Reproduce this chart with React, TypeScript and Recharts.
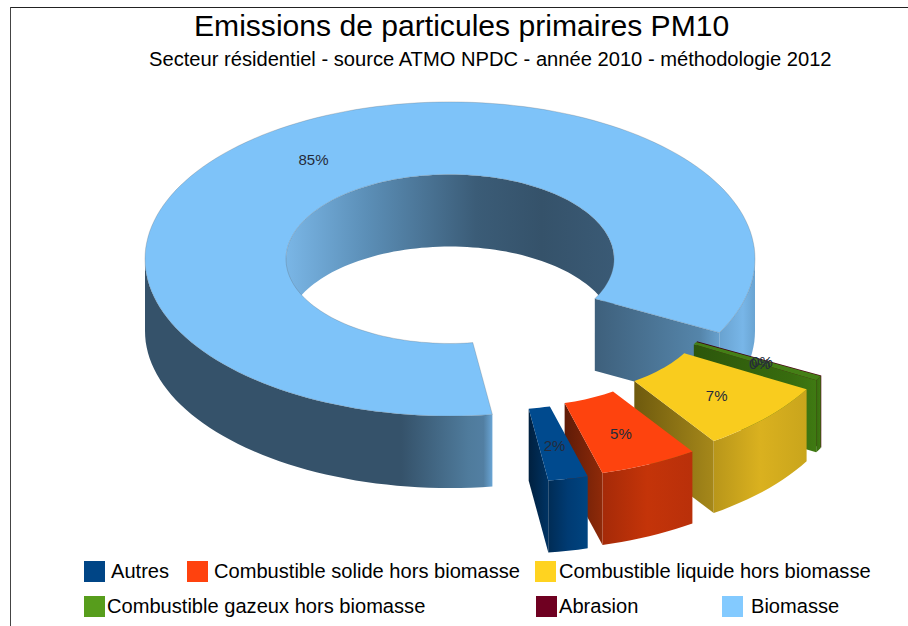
import React from 'react';
import { PieChart, Pie } from 'recharts';

// legend order of the source chart
const categories = [
    'Autres',
    'Combustible solide hors biomasse',
    'Combustible liquide hors biomasse',
    'Combustible gazeux hors biomasse',
    'Abrasion',
    'Biomasse',
];
const shares = [2.1, 5.2, 7.2, 0.49, 0.01, 85];
const legendColors = ['#004586', '#ff420e', '#ffd320', '#579d1c', '#6f0021', '#83caff'];

// the pie runs clockwise from the bottom, so the big ring is painted first
const pieData = categories
    .map((name, i) => ({ name, value: shares[i] }))
    .reverse();

type Stop = [number, string];
const topColors: Record<string, string> = {
    Autres: '#004a8e',
    'Combustible solide hors biomasse': '#fe430e',
    'Combustible liquide hors biomasse': '#f9cc1e',
    'Combustible gazeux hors biomasse': '#447f16',
    Abrasion: '#6f0021',
    Biomasse: '#7ec3f9',
};
const sideStops: Record<string, Stop[]> = {
    Autres: [[0, '#00203f'], [1, '#003363']],
    'Combustible solide hors biomasse': [[0, '#5e1b07'], [1, '#8f2a09']],
    'Combustible liquide hors biomasse': [[0, '#6e5a0e'], [1, '#a6881a']],
    'Combustible gazeux hors biomasse': [[0, '#2c560b'], [0.8, '#386c0f'], [1, '#3f7a12']],
    Abrasion: [[0, '#3a0011'], [1, '#4f0015']],
};
const wallStops: Record<string, Stop[]> = {
    Autres: [[0, '#002c55'], [0.5, '#003b73'], [1, '#004480']],
    'Combustible solide hors biomasse': [[0, '#a52a08'], [0.5, '#c43409'], [1, '#b9300a']],
    'Combustible liquide hors biomasse': [[0, '#b8961a'], [0.5, '#dab11f'], [1, '#c9a51c']],
    'Combustible gazeux hors biomasse': [[0, '#386c0f'], [1, '#3f7a12']],
    Abrasion: [[0, '#4f0015'], [1, '#5a0018']],
};
// ring shading, x runs from the left end of the ring to its right end
const ringStops: Stop[] = [
    [0, '#35526a'], [0.42, '#35526a'], [0.53, '#4f7b9c'], [0.555, '#527fa2'], [0.57, '#6aa6d6'],
    [0.738, '#3e607c'], [0.91, '#5585aa'], [0.945, '#6aa4d2'], [0.98, '#78b6e8'], [1, '#6aa4d2'],
];
const holeStops: Stop[] = [
    [0, '#7ab6e6'], [0.25, '#5b8eb6'], [0.58, '#3b5c77'], [0.78, '#35526a'], [1, '#3a5a75'],
];

const SQUASH = 0.515;
const DEPTH = 72;
const rad = (a: number) => (a * Math.PI) / 180;

function arc(cx: number, cy: number, r: number, from: number, to: number) {
    const n = Math.max(2, Math.ceil(Math.abs(to - from) / 2));
    const pts: [number, number][] = [];
    for (let i = 0; i <= n; i++) {
        const a = rad(from + ((to - from) * i) / n);
        pts.push([cx + r * Math.cos(a), cy - r * SQUASH * Math.sin(a)]);
    }
    return pts;
}

const down = (pts: [number, number][]) => pts.map(([x, y]) => [x, y + DEPTH] as [number, number]);
const toPath = (pts: [number, number][]) =>
    'M' + pts.map(([x, y]) => `${x.toFixed(1)} ${y.toFixed(1)}`).join('L') + 'Z';

// pieces of [lo, hi] that fall in the half turn starting at base
function clipHalf(lo: number, hi: number, base: number) {
    const out: [number, number][] = [];
    for (let k = -2; k <= 2; k++) {
        const a = Math.max(lo, base + k * 360);
        const b = Math.min(hi, base + k * 360 + 180);
        if (b > a) out.push([a, b]);
    }
    return out;
}

// slices pulled out of the ring shift a bit more than radially
function explode(name: string, mid: number) {
    if (name === 'Biomasse') return [0, 0];
    return [42 + 68 * Math.cos(rad(mid)), 21 - 46 * Math.sin(rad(mid))];
}

function Gradient({ id, stops, user }: { id: string; stops: Stop[]; user?: boolean }) {
    const coords = user
        ? { gradientUnits: 'userSpaceOnUse' as const, x1: 145, x2: 755, y1: 0, y2: 0 }
        : { x1: 0, x2: 1, y1: 0, y2: 0 };
    return (
        <linearGradient id={id} {...coords}>
            {stops.map(([o, c]) => (
                <stop key={o} offset={o} stopColor={c} />
            ))}
        </linearGradient>
    );
}

function Slice3D(props: any) {
    const { name, cx, cy, innerRadius, outerRadius, startAngle, endAngle } = props;
    const lo = Math.min(startAngle, endAngle);
    const hi = Math.max(startAngle, endAngle);
    const mid = (lo + hi) / 2;
    const [dx, dy] = explode(name, mid);
    const x0 = cx + dx;
    const y0 = cy + dy;
    const isRing = name === 'Biomasse';
    const key = categories.indexOf(name);

    const outerTop = arc(x0, y0, outerRadius, lo, hi);
    const innerTop = arc(x0, y0, innerRadius, hi, lo);

    const sideFace = (a: number) => {
        const p = [...arc(x0, y0, innerRadius, a, a).slice(0, 1), ...arc(x0, y0, outerRadius, a, a).slice(0, 1)];
        return toPath([...p, ...down(p).reverse()]);
    };
    const wall = (r: number, a: number, b: number) => {
        const p = arc(x0, y0, r, a, b);
        return toPath([...p, ...down(p).reverse()]);
    };

    const wallFill = isRing ? 'url(#ring)' : `url(#wall${key})`;
    const sideFill = isRing ? 'url(#ring)' : `url(#side${key})`;

    return (
        <g>
            <defs>
                {isRing ? (
                    <>
                        <Gradient id="ring" stops={ringStops} user />
                        <Gradient id="hole" stops={holeStops} />
                    </>
                ) : (
                    <>
                        <Gradient id={`wall${key}`} stops={wallStops[name]} />
                        <Gradient id={`side${key}`} stops={sideStops[name]} />
                    </>
                )}
            </defs>
            {clipHalf(lo, hi, 0).map(([a, b]) => (
                <path key={`in${a}`} d={wall(innerRadius, a, b)} fill="url(#hole)" />
            ))}
            {Math.cos(rad(lo)) > 0 && <path d={sideFace(lo)} fill={sideFill} />}
            {Math.cos(rad(hi)) < 0 && <path d={sideFace(hi)} fill={sideFill} />}
            {clipHalf(lo, hi, 180).map(([a, b]) => (
                <path key={`out${a}`} d={wall(outerRadius, a, b)} fill={wallFill} />
            ))}
            <path
                d={toPath([...outerTop, ...innerTop])}
                fill={topColors[name]}
                stroke={isRing ? 'rgba(90,90,90,0.35)' : 'none'}
                strokeWidth={0.7}
            />
        </g>
    );
}

function percentLabel(props: any) {
    const { cx, cy, midAngle, percent, name } = props;
    const [dx, dy] = explode(name, midAngle > 0 ? midAngle - 360 : midAngle);
    const a = rad(midAngle);
    const x = cx + dx + 238 * Math.cos(a);
    const y = cy + dy - 245 * 0.49 * Math.sin(a) + (name === 'Biomasse' ? -1 : 3);
    return (
        <text
            x={x}
            y={y}
            textAnchor="middle"
            dominantBaseline="central"
            fontFamily="'Liberation Sans'"
            fontSize={15}
            fill="#252b3a"
        >
            {`${Math.round(percent * 100)}%`}
        </text>
    );
}

const legendLayout = [
    { left: 84, top: 561, text: 111 },
    { left: 187, top: 561, text: 214 },
    { left: 535, top: 561, text: 559 },
    { left: 84, top: 596, text: 107 },
    { left: 536, top: 596, text: 559 },
    { left: 722, top: 596, text: 751 },
];

function ChartLegend() {
    return (
        <>
            {categories.map((name, i) => {
                const pos = legendLayout[i];
                return (
                    <React.Fragment key={name}>
                        <div
                            style={{
                                position: 'absolute',
                                left: pos.left,
                                top: pos.top,
                                width: 21,
                                height: 21,
                                background: legendColors[i],
                            }}
                        />
                        <div
                            style={{
                                position: 'absolute',
                                left: pos.text,
                                top: pos.top - 1,
                                fontSize: 20.1,
                                lineHeight: '23px',
                                whiteSpace: 'nowrap',
                                color: '#000',
                            }}
                        >
                            {name}
                        </div>
                    </React.Fragment>
                );
            })}
        </>
    );
}

export default function App() {
    return (
        <div
            style={{
                position: 'absolute',
                left: 0,
                top: 0,
                width: 908,
                height: 626,
                overflow: 'hidden',
                background: '#fff',
                fontFamily: "'Liberation Sans', Arial, sans-serif",
            }}
        >
            <div style={{ position: 'absolute', left: 10, top: 7, right: 0, height: 1, background: '#222' }} />
            <div style={{ position: 'absolute', left: 10, top: 7, bottom: 0, width: 1, background: '#444' }} />
            <div style={{ position: 'absolute', left: 194, top: 9, fontSize: 30.1, lineHeight: '34px', whiteSpace: 'nowrap' }}>
                Emissions de particules primaires PM10
            </div>
            <div style={{ position: 'absolute', left: 149, top: 47, fontSize: 20.15, lineHeight: '24px', whiteSpace: 'nowrap' }}>
                Secteur résidentiel - source ATMO NPDC - année 2010 - méthodologie 2012
            </div>
            <div style={{ position: 'absolute', left: 0, top: 0 }}>
                <PieChart width={908} height={626} margin={{ top: 0, right: 0, bottom: 0, left: 0 }}>
                    <Pie
                        data={pieData}
                        dataKey="value"
                        nameKey="name"
                        cx={450}
                        cy={259}
                        innerRadius={164}
                        outerRadius={305}
                        startAngle={-82}
                        endAngle={-442}
                        stroke="none"
                        shape={(props: any) => <Slice3D {...props} />}
                        label={percentLabel}
                        labelLine={false}
                        isAnimationActive={false}
                    />
                </PieChart>
            </div>
            <ChartLegend />
        </div>
    );
}
